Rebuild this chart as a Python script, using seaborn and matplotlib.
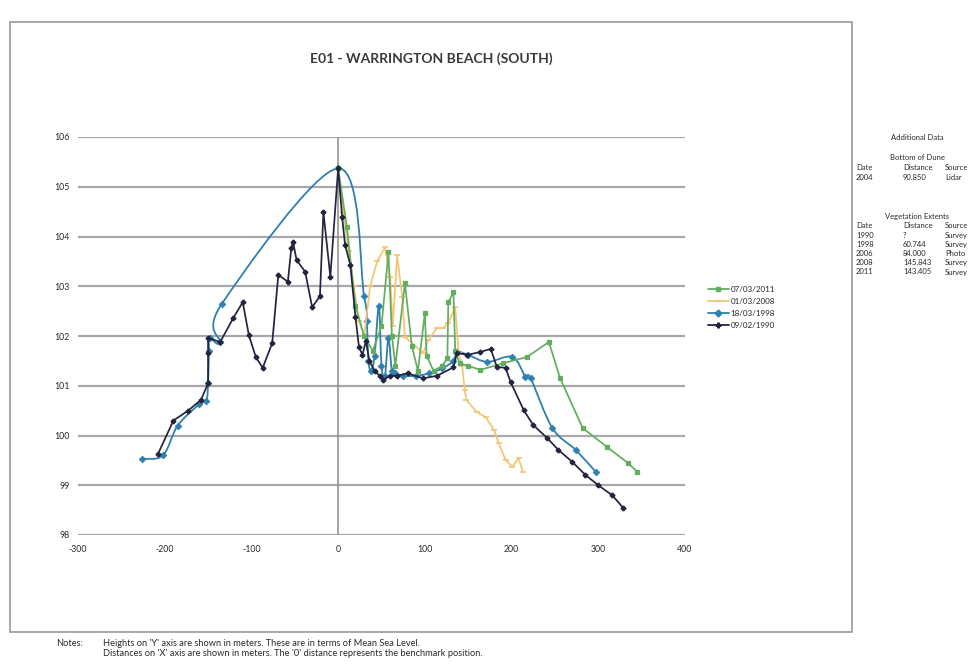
import matplotlib
matplotlib.use("Agg")
import matplotlib.pyplot as plt
import seaborn as sns
import numpy as np
from matplotlib.path import Path
from matplotlib.patches import PathPatch, Rectangle
from matplotlib.lines import Line2D

# ---- chart data -------------------------------------------------------
title = "E01 - WARRINGTON BEACH (SOUTH)"
survey_labels = ["07/03/2011", "01/03/2008", "18/03/1998", "09/02/1990"]

x_2011 = [0, 10, 20, 30, 40, 50, 58, 62, 66, 77, 85, 92, 100, 102, 110, 120,
          126, 127, 133, 135, 140, 150, 164, 190, 218, 243, 256, 282, 310, 334, 345]
y_2011 = [105.37, 104.2, 102.6, 102.0, 101.7, 102.2, 103.68, 102.0, 101.4, 103.06,
          101.8, 101.3, 102.46, 101.6, 101.3, 101.4, 101.55, 102.68, 102.88, 101.7,
          101.45, 101.4, 101.32, 101.45, 101.58, 101.88, 101.15, 100.15, 99.77, 99.45, 99.27]

x_2008 = [0, 6, 12, 18, 24, 30, 37, 45, 54, 60, 63, 68, 74, 77, 98, 104, 114, 121,
          127, 135, 139, 143, 146, 148, 160, 170, 180, 185, 193, 201, 208, 213]
y_2008 = [105.37, 104.5, 103.7, 103.0, 102.3, 102.0, 103.0, 103.5, 103.78, 103.18,
          102.2, 103.62, 102.78, 101.98, 101.66, 101.92, 102.16, 102.16, 102.26, 102.58,
          101.66, 101.4, 100.91, 100.71, 100.47, 100.37, 100.11, 99.85, 99.51, 99.37,
          99.55, 99.27]

x_1998 = [-226, -202, -185, -160, -152, -150, -149, -148, -136, -134, 0, 30, 33, 35,
          38, 42, 47, 50, 54, 58, 62, 66, 75, 90, 105, 120, 133, 137, 150, 172, 201,
          216, 222, 247, 274, 297]
y_1998 = [99.53, 99.6, 100.2, 100.63, 100.7, 101.05, 101.7, 101.95, 101.87, 102.65,
          105.37, 102.8, 102.3, 101.5, 101.3, 101.6, 102.6, 101.4, 101.2, 101.95, 101.3,
          101.25, 101.2, 101.2, 101.25, 101.35, 101.5, 101.68, 101.62, 101.48, 101.58,
          101.18, 101.15, 100.15, 99.71, 99.27]

x_1990 = [-208, -190, -173, -158, -150, -150, -150, -136, -121, -110, -103, -95, -87,
          -76, -69, -58, -54, -52, -48, -38, -30, -21, -17, -9, 0, 4.6, 8, 14, 20, 24,
          28, 32, 36, 42, 48, 52, 60, 68, 80, 98, 114, 133, 137, 149, 164, 176, 183,
          193, 199, 214, 225, 241, 254, 270, 285, 300, 316, 329]
y_1990 = [99.62, 100.3, 100.5, 100.72, 101.05, 101.66, 101.96, 101.88, 102.36, 102.68,
          102.02, 101.58, 101.36, 101.86, 103.23, 103.09, 103.77, 103.89, 103.53, 103.29,
          102.58, 102.8, 104.49, 103.19, 105.37, 104.39, 103.83, 103.43, 102.38, 101.78,
          101.62, 101.9, 101.5, 101.3, 101.2, 101.12, 101.2, 101.2, 101.25, 101.15, 101.2,
          101.37, 101.66, 101.62, 101.68, 101.74, 101.38, 101.36, 101.07, 100.51, 100.21,
          99.95, 99.71, 99.47, 99.21, 99.0, 98.8, 98.54]

x_ticks = [-300, -200, -100, 0, 100, 200, 300, 400]
y_ticks = [98, 99, 100, 101, 102, 103, 104, 105, 106]

notes_head = "Notes:"
notes_lines = [
    "Heights on 'Y' axis are shown in meters. These are in terms of Mean Sea Level.",
    "Distances on 'X' axis are shown in meters. The '0' distance represents the benchmark position.",
]

dune_rows = [("2004", "90.850", "Lidar")]
veg_rows = [("1990", "?", "Survey"), ("1998", "60.744", "Survey"),
            ("2006", "84.000", "Photo"), ("2008", "145.843", "Survey"),
            ("2011", "143.405", "Survey")]

# ---- styling ----------------------------------------------------------
colors = {"07/03/2011": "#62ad5e", "01/03/2008": "#f2c672",
          "18/03/1998": "#2f80ad", "09/02/1990": "#23243f"}
markers = {"07/03/2011": "s", "01/03/2008": "_", "18/03/1998": "D", "09/02/1990": "P"}

sns.set_theme(style="white")
plt.rcParams["font.family"] = ["Lato", "DejaVu Sans"]

W, H = 977, 664
fig = plt.figure(figsize=(W / 100, H / 100), dpi=100)


def fx(px):
    return px / W


def fy(py):
    return 1 - py / H


ax = fig.add_axes([fx(78), fy(535), fx(685) - fx(78), fy(137) - fy(535)])
ax.set_xlim(-300, 400)
ax.set_ylim(98, 106)

grid_c = "#a8a8a8"
for v in y_ticks:
    ax.axhline(v, color=grid_c, lw=1.6, zorder=0)
ax.axvline(0, color="#8c8c8c", lw=1.1, zorder=0)

for s in ax.spines.values():
    s.set_visible(False)

txt_c = "#2a2a2a"
ax.set_xticks(x_ticks)
ax.set_yticks(y_ticks)
ax.set_xticklabels([str(t) for t in x_ticks], fontsize=6.3, color=txt_c)
ax.set_yticklabels([str(t) for t in y_ticks], fontsize=6.3, color=txt_c)
ax.tick_params(axis="both", length=0)
ax.tick_params(axis="x", pad=7)
ax.tick_params(axis="y", pad=6)
ax.set_xlabel("")
ax.set_ylabel("")


def smooth_path(xs, ys):
    """Catmull-Rom curve through the points, written as cubic Bezier segments."""
    pts = np.column_stack([xs, ys]).astype(float)
    n = len(pts)
    verts = [pts[0]]
    codes = [Path.MOVETO]
    for i in range(n - 1):
        p0 = pts[i - 1] if i > 0 else pts[i]
        p1 = pts[i]
        p2 = pts[i + 1]
        p3 = pts[i + 2] if i + 2 < n else pts[i + 1]
        c1 = p1 + (p2 - p0) / 6.0
        c2 = p2 - (p3 - p1) / 6.0
        verts += [c1, c2, p2]
        codes += [Path.CURVE4] * 3
    return Path(verts, codes)


series = [("18/03/1998", x_1998, y_1998), ("01/03/2008", x_2008, y_2008),
          ("07/03/2011", x_2011, y_2011), ("09/02/1990", x_1990, y_1990)]

for k, (name, xs, ys) in enumerate(series):
    c = colors[name]
    z = 3 + k
    if name == "18/03/1998":
        ax.add_patch(PathPatch(smooth_path(xs, ys), fill=False, edgecolor=c,
                               lw=1.3, zorder=z))
        sns.scatterplot(x=xs, y=ys, ax=ax, color=c, marker="D", s=12,
                        edgecolor=c, linewidth=0.5, zorder=z, legend=False)
    else:
        ms, mew = 3.2, 0.9
        if name == "01/03/2008":
            ms, mew = 4, 1.2
        sns.lineplot(x=xs, y=ys, ax=ax, sort=False, estimator=None, color=c,
                     lw=1.25, marker=markers[name], markersize=ms,
                     markeredgecolor=c, markeredgewidth=mew, zorder=z,
                     legend=False)

# title
fig.text(fx(431), fy(59), title, ha="center", va="center", fontsize=10,
         fontweight="bold", color="#3a3a3a")

# legend
handles = [Line2D([], [], color=colors[n], lw=1.3, marker=markers[n],
                  markersize=3.5, markeredgecolor=colors[n])
           for n in survey_labels]
ax.legend(handles, survey_labels, loc="upper left",
          bbox_to_anchor=(fx(708), fy(286)), bbox_transform=fig.transFigure,
          frameon=False, fontsize=5.8, handlelength=2.6, handletextpad=0.2,
          labelspacing=0.6, borderpad=0, borderaxespad=0)

# outer frame of the chart area
fig.patches.append(Rectangle((fx(10), fy(632)), fx(852) - fx(10), fy(22) - fy(632),
                             transform=fig.transFigure, fill=False,
                             edgecolor="#9a9a9a", lw=1.2))

# side table
fs = 5.5
fig.text(fx(917), fy(137), "Additional Data", ha="center", va="center", fontsize=fs, color=txt_c)
fig.text(fx(917), fy(158), "Bottom of Dune", ha="center", va="center", fontsize=fs, color=txt_c)
col_x = [856, 903, 945]
row_y = 168
for j, h in enumerate(["Date", "Distance", "Source"]):
    fig.text(fx(col_x[j]), fy(row_y), h, ha="left", va="center", fontsize=fs, color=txt_c)
for r in dune_rows:
    row_y += 9
    for j, v in enumerate(r):
        fig.text(fx(col_x[j]), fy(row_y), v, ha="left", va="center", fontsize=fs, color=txt_c)
fig.text(fx(917), fy(216), "Vegetation Extents", ha="center", va="center", fontsize=fs, color=txt_c)
row_y = 226
for j, h in enumerate(["Date", "Distance", "Source"]):
    fig.text(fx(col_x[j]), fy(row_y), h, ha="left", va="center", fontsize=fs, color=txt_c)
for r in veg_rows:
    row_y += 9.2
    for j, v in enumerate(r):
        fig.text(fx(col_x[j]), fy(row_y), v, ha="left", va="center", fontsize=fs, color=txt_c)

# notes under the frame
nfs = 6.7
fig.text(fx(56), fy(643), notes_head, ha="left", va="center", fontsize=nfs, color=txt_c)
fig.text(fx(103), fy(643), notes_lines[0], ha="left", va="center", fontsize=nfs, color=txt_c)
fig.text(fx(103), fy(653), notes_lines[1], ha="left", va="center", fontsize=nfs, color=txt_c)

fig.savefig("out.png", dpi=100, facecolor="white")
